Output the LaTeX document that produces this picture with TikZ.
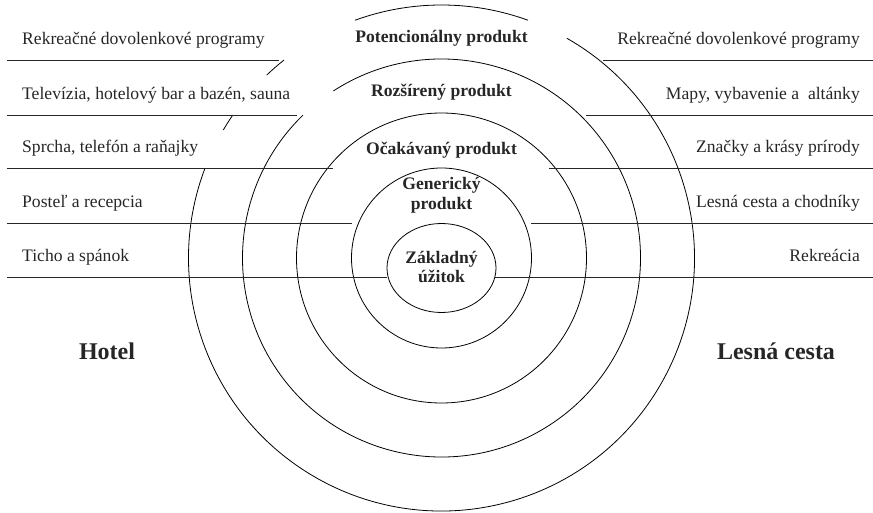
\documentclass[tikz,border=0pt]{standalone}
\usepackage{fontspec}
\setmainfont{Liberation Serif}

\tikzset{
  ring/.style={line width=0.8pt},
  rule/.style={line width=0.9pt, black!85},
  side/.style={font=\fontsize{17.6}{20}\selectfont, inner sep=0pt, text=black!85},
  core/.style={font=\bfseries\fontsize{17.6}{20}\selectfont, align=center, inner sep=0pt, text=black!85},
  place/.style={font=\bfseries\fontsize{24}{28}\selectfont, inner sep=0pt, text=black!85}
}

\begin{document}
\begin{tikzpicture}[x=1pt,y=1pt]
\useasboundingbox (0,0) rectangle (873,512);
\coordinate (C) at (441.5,254);

% the product levels
\draw [ring] (441.5,244) ellipse [x radius=54.5pt, y radius=44.5pt];
\draw [ring] (C) circle [radius=90pt];
\draw [ring] (C) circle [radius=145pt];
\draw [ring] ([shift={(122.9:199pt)}]C) arc [start angle=122.9, end angle=-225.9, radius=199pt];
\foreach \a/\b in {70/110, 60.3/-200.7, 128.5/133.7, 145.6/149.6}
  \draw [ring] ([shift={(\a:253pt)}]C) arc [start angle=\a, end angle=\b, radius=253pt];

% rules under the rows
\foreach \y/\x in {452/279, 397/297, 344/333, 289/352, 235/387}
  \draw [rule] (7,\y) -- (\x,\y);
\foreach \y/\x in {452/603, 397/586, 344/549, 289/531, 235/495}
  \draw [rule] (\x,\y) -- (873,\y);

% hotel side
\node [side, anchor=base west] (h1) at (22,467) {Rekreačné dovolenkové programy};
\node [side, anchor=base west] (h2) at (22,412) {Televízia, hotelový bar a bazén, sauna};
\node [side, anchor=base west] (h3) at (22,359) {Sprcha, telefón a raňajky};
\node [side, anchor=base west] (h4) at (22,304) {Posteľ a recepcia};
\node [side, anchor=base west] (h5) at (22,250) {Ticho a spánok};

% forest path side
\node [side, anchor=base east] (f1) at (860,467) {Rekreačné dovolenkové programy};
\node [side, anchor=base east] (f2) at (860,412) {Mapy, vybavenie a~~altánky};
\node [side, anchor=base east] (f3) at (860,359) {Značky a krásy prírody};
\node [side, anchor=base east] (f4) at (860,304) {Lesná cesta a chodníky};
\node [side, anchor=base east] (f5) at (860,250) {Rekreácia};

% level names (base = last line)
\node [core, anchor=base] (potential) at (441.5,469) {Potencionálny produkt};
\node [core, anchor=base] (augmented) at (441.5,415) {Rozšírený produkt};
\node [core, anchor=base] (expected) at (441.5,357) {Očakávaný produkt};
\node [core, anchor=base] (generic) at (441.5,302) {Generický\\produkt};
\node [core, anchor=base] (benefit) at (441.5,229) {Základný\\úžitok};

\node [place, anchor=base] (hotel) at (107,153) {Hotel};
\node [place, anchor=base] (forest) at (776,153) {Lesná cesta};
\end{tikzpicture}
\end{document}
